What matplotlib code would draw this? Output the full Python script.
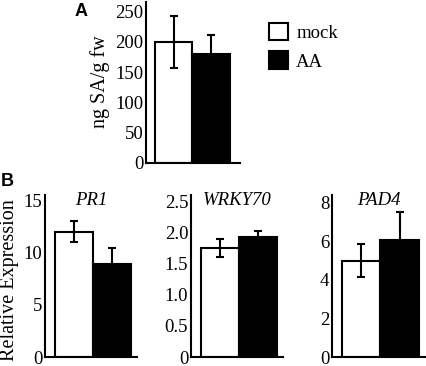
import matplotlib
matplotlib.use("Agg")
import matplotlib.pyplot as plt
from matplotlib.patches import Patch

# ---- data ----
groups = ["mock", "AA"]
sa_values = [200, 180]
sa_errors = [43, 32]

genes = ["PR1", "WRKY70", "PAD4"]
gene_values = {"PR1": [12.0, 8.9], "WRKY70": [1.75, 1.92], "PAD4": [5.0, 6.05]}
gene_errors = {"PR1": [1.0, 1.55], "WRKY70": [0.15, 0.1], "PAD4": [0.85, 1.45]}
gene_ticks = {"PR1": [0, 5, 10, 15], "WRKY70": [0, 0.5, 1.0, 1.5, 2.0, 2.5], "PAD4": [0, 2, 4, 6, 8]}
gene_ticklabels = {"PR1": ["0", "5", "10", "15"],
                   "WRKY70": ["0", "0.5", "1.0", "1.5", "2.0", "2.5"],
                   "PAD4": ["0", "2", "4", "6", "8"]}
gene_ylim = {"PR1": 15.5, "WRKY70": 2.6, "PAD4": 8.4}
sa_ticks = [0, 50, 100, 150, 200, 250]

# ---- style ----
W, H = 427, 366
FS = 13.5
FS_LABEL = 14.5
serif = ["Liberation Serif", "DejaVu Serif"]
plt.rcParams["font.family"] = serif
LW = 1.5
colors = ["white", "black"]

fig = plt.figure(figsize=(W / 100, H / 100), dpi=100)


def frac(x0, x1, ytop, ybot):
    return [x0 / W, 1 - ybot / H, (x1 - x0) / W, (ybot - ytop) / H]


def style_axes(ax):
    for s in ["top", "right"]:
        ax.spines[s].set_visible(False)
    for s in ["left", "bottom"]:
        ax.spines[s].set_linewidth(LW)
    ax.tick_params(axis="y", length=0, pad=2, labelsize=FS)
    ax.set_xticks([])


def draw_bars(ax, vals, errs):
    xs = [0, 1]
    ax.bar(xs, vals, width=1.0, color=colors, edgecolor="black", linewidth=LW, zorder=2)
    ax.errorbar(xs, vals, yerr=errs, fmt="none", ecolor="black", elinewidth=LW,
                capsize=3, capthick=LW, zorder=3)


# Panel A
axA = fig.add_axes(frac(146, 240, 2, 163))
draw_bars(axA, sa_values, sa_errors)
axA.set_xlim(-0.74, 1.77)
axA.set_ylim(0, 266)
axA.set_yticks(sa_ticks)
style_axes(axA)
axA.set_ylabel("ng SA/g fw", fontsize=FS_LABEL)
axA.yaxis.set_label_coords(-0.383, 0.503)

# Panel B
xr = {"PR1": (45, 137), "WRKY70": (191, 283), "PAD4": (332, 425)}
for g in genes:
    ax = fig.add_axes(frac(xr[g][0], xr[g][1], 195, 357))
    draw_bars(ax, gene_values[g], gene_errors[g])
    ax.set_xlim(-0.76, 1.66)
    ax.set_ylim(0, gene_ylim[g])
    ax.set_yticks(gene_ticks[g])
    ax.set_yticklabels(gene_ticklabels[g])
    style_axes(ax)
    ax.text(0.5, 0.963, g, transform=ax.transAxes, ha="center", va="center",
            fontsize=FS, style="italic")
    if g == "PR1":
        ax.set_ylabel("Relative Expression", fontsize=FS_LABEL)
        ax.yaxis.set_label_coords(-0.283, 0.475)

# Legend
handles = [Patch(facecolor=c, edgecolor="black", linewidth=LW) for c in colors]
fig.legend(handles, groups, loc="upper left", bbox_to_anchor=(269 / W, 1 - 23 / H),
           frameon=False, borderpad=0, borderaxespad=0, fontsize=FS,
           handlelength=1.0, handleheight=1.05, labelspacing=0.5, handletextpad=0.45)

# Panel letters
fig.text(81 / W, 1 - 11 / H, "A", fontsize=13, fontweight="bold",
         family=["Liberation Sans", "DejaVu Sans"], ha="center", va="center")
fig.text(7 / W, 1 - 182 / H, "B", fontsize=13, fontweight="bold",
         family=["Liberation Sans", "DejaVu Sans"], ha="center", va="center")

fig.savefig("out.png", dpi=100)
